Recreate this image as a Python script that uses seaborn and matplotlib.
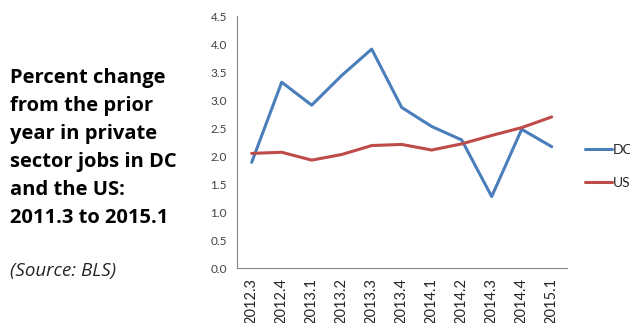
import matplotlib
matplotlib.use("Agg")
import matplotlib.pyplot as plt
from matplotlib.ticker import FixedLocator, MultipleLocator
import seaborn as sns
import pandas as pd

# Quarterly year-over-year change in private sector jobs (%)
quarters = ["2012.3", "2012.4", "2013.1", "2013.2", "2013.3", "2013.4",
            "2014.1", "2014.2", "2014.3", "2014.4", "2015.1"]
dc_change = [1.89, 3.32, 2.91, 3.44, 3.91, 2.87, 2.53, 2.29, 1.28, 2.48, 2.17]
us_change = [2.05, 2.07, 1.93, 2.03, 2.19, 2.21, 2.11, 2.22, 2.37, 2.51, 2.70]
series_names = ["DC", "US"]
series_colors = ["#4a7ebb", "#be4b48"]

title_lines = ["Percent change", "from the prior", "year in private",
               "sector jobs in DC", "and the US:", "2011.3 to 2015.1"]
source_note = "(Source: BLS)"

df = pd.DataFrame({
    "pos": list(range(len(quarters))) * 2,
    "value": dc_change + us_change,
    "series": [series_names[0]] * len(quarters) + [series_names[1]] * len(quarters),
})

sns.set_theme(style="white")
plt.rcParams["font.family"] = ["Lato", "DejaVu Sans"]

fig = plt.figure(figsize=(6.30, 3.23), dpi=100)
ax = fig.add_axes([0.3757, 0.1693, 0.5238, 0.7810])

sns.lineplot(data=df, x="pos", y="value", hue="series",
             palette=dict(zip(series_names, series_colors)),
             linewidth=2.2, ax=ax, legend=False)

ax.set_xlim(-0.5, len(quarters) - 0.5)
ax.set_ylim(0, 4.5)
ax.yaxis.set_major_locator(MultipleLocator(0.5))
ax.set_yticklabels([f"{v:.1f}" for v in ax.get_yticks()])
ax.set_xticks(range(len(quarters)))
ax.set_xticklabels(quarters, rotation=90)
ax.xaxis.set_minor_locator(FixedLocator([i - 0.5 for i in range(len(quarters) + 1)]))
ax.tick_params(axis="x", which="major", length=0, pad=7, labelsize=10.5, labelcolor="#262626")
ax.tick_params(axis="x", which="minor", length=5, width=0.8, color="#868686", direction="out")
ax.tick_params(axis="y", which="major", length=4, width=0.8, color="#868686", direction="out",
               labelsize=8.5, labelcolor="#404040", pad=3)
ax.set_xlabel("")
ax.set_ylabel("")
for side in ("top", "right"):
    ax.spines[side].set_visible(False)
for side in ("left", "bottom"):
    ax.spines[side].set_color("#868686")
    ax.spines[side].set_linewidth(0.8)

# legend at the right edge
handles = [plt.Line2D([], [], color=c, linewidth=2.2) for c in series_colors]
fig.legend(handles, series_names, loc="center left",
           bbox_to_anchor=(0.9286, 0.4845), frameon=False,
           fontsize=10, handlelength=1.95, handletextpad=0.05,
           labelspacing=1.55, borderpad=0, borderaxespad=0)

# descriptive text block on the left
y0 = 1 - 78 / 323
for i, line in enumerate(title_lines):
    fig.text(10 / 630, y0 - i * 28 / 323, line, fontsize=14.5, fontweight="bold",
             family=["Open Sans", "DejaVu Sans"],
             color="black", va="center", ha="left")
fig.text(10 / 630, 1 - 271 / 323, source_note, fontsize=13.5, fontstyle="italic",
         family=["Open Sans", "DejaVu Sans"],
         color="#262626", va="center", ha="left")

fig.savefig("out.png", dpi=100)
